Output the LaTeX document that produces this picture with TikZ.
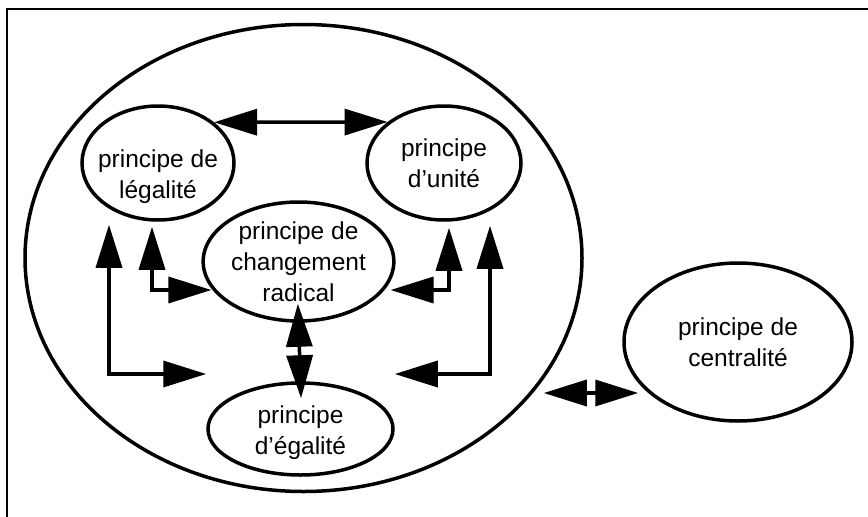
\documentclass[tikz,border=0pt]{standalone}
\usepackage{fontspec}
\setmainfont{Liberation Sans}
\usetikzlibrary{shapes.geometric,arrows.meta}
\begin{document}
\begin{tikzpicture}
      [x=1pt,y=-1pt,
      principe/.style={ellipse, draw=black, line width=3.5pt, inner sep=0pt, align=center,
        font=\fontsize{24.5}{31}\selectfont},
      texte/.style={align=center, font=\fontsize{24.5}{31}\selectfont},
      fleche/.style={line width=3.5pt, {Triangle[length=43pt,width=26pt]}-{Triangle[length=43pt,width=26pt]}},
      ]
      \useasboundingbox (0,0) rectangle (868,517);
      \draw[line width=1.5pt] (7,517) -- (7,9) -- (868,9);
      % le cercle des principes
      \node[principe, minimum width=557pt, minimum height=467pt] (systeme) at (303.5,258) {};
      \node[principe, minimum width=152pt, minimum height=114pt,
        label={[texte, yshift=-14pt]center:principe de\\légalité}] (legalite) at (158,163) {};
      \node[principe, minimum width=154pt, minimum height=114pt] (unite) at (444,163) {principe\\d’unité};
      \node[principe, minimum width=183pt, minimum height=119pt] (changement) at (298.5,261.5) {principe de\\changement\\radical};
      \node[principe, minimum width=185pt, minimum height=92pt,
        label={[texte, yshift=-4pt]center:principe\\d’égalité}] (egalite) at (300.5,429) {};
      \node[principe, minimum width=228pt, minimum height=158pt] (centralite) at (738,342) {principe de\\centralité};
      % les liens
      \draw[fleche] (legalite.36) -- (unite.144);
      \draw[fleche, shorten <=-19pt, shorten >=-17pt] (changement.south) -- (egalite.north);
      \draw[fleche] ([xshift=-49pt,yshift=-3pt]legalite.south) |- ([yshift=55pt]egalite.west);
      \draw[fleche] ([xshift=-6pt,yshift=-5pt]legalite.south) |- ([xshift=10pt,yshift=-28.5pt]changement.west);
      \draw[fleche] ([xshift=5pt,yshift=-6pt]unite.south) |- ([xshift=-5pt,yshift=-28.5pt]changement.east);
      \draw[fleche] ([xshift=46pt,yshift=-4pt]unite.south) |- ([yshift=55pt]egalite.east);
      \draw[fleche] ([xshift=-40pt,yshift=-135pt]systeme.east) -- ([xshift=16pt,yshift=-51pt]centralite.west);
\end{tikzpicture}
\end{document}
